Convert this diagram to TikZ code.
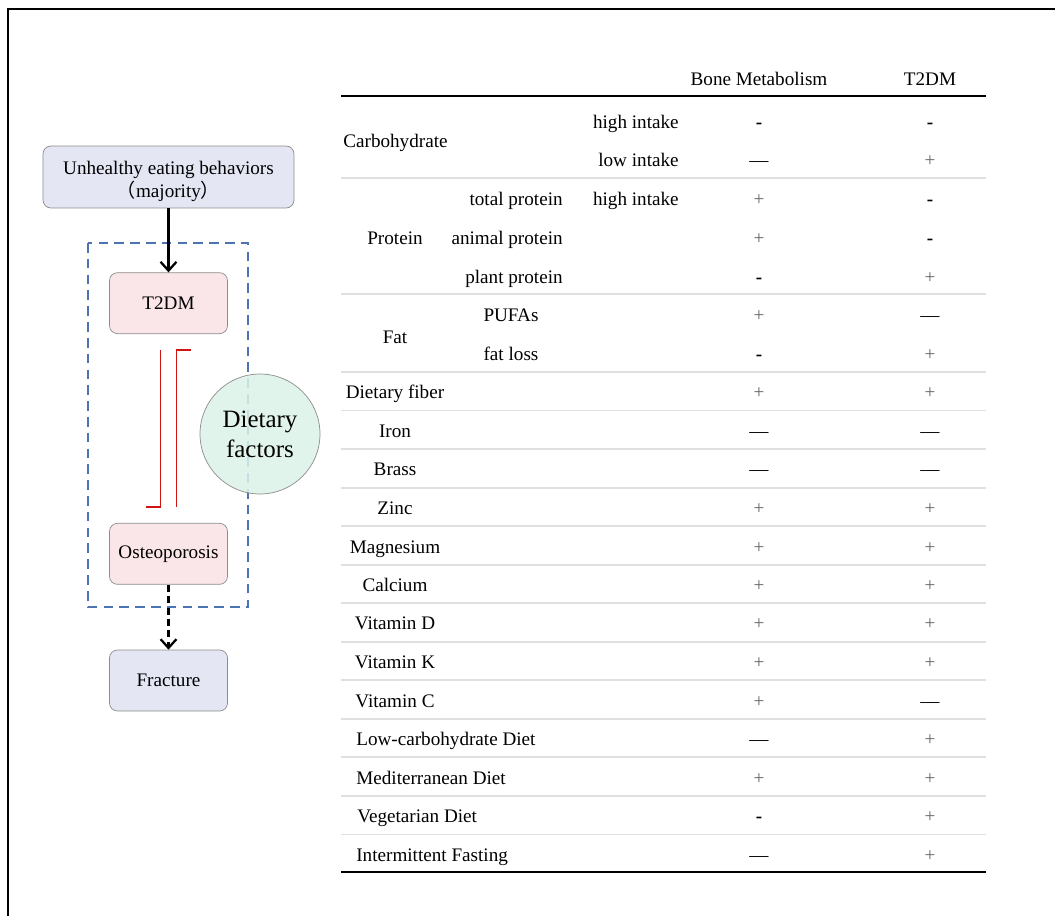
\documentclass[tikz,border=0pt]{standalone}
\usepackage{fontspec}
\setmainfont{Liberation Serif}
\newfontfamily\cjk{Noto Sans CJK SC}
\usepackage{xcolor}
\usetikzlibrary{positioning,arrows.meta}
\definecolor{boxblue}{HTML}{E4E7F3}
\definecolor{boxpink}{HTML}{FAE6E8}
\definecolor{circgreen}{HTML}{DCF2E8}
\definecolor{dashblue}{HTML}{4E73B2}
\definecolor{inhred}{HTML}{D01414}
\newcommand{\mneg}{\textbf{-}}
\newcommand{\mpos}{\textcolor{black!60}{+}}
\newcommand{\mnone}{\textemdash}
\tikzset{
  box/.style={draw=black!45, rounded corners=4.5pt, minimum width=2.36cm,
    minimum height=1.22cm, align=center},
  cell/.style={inner sep=0pt, text height=9.6pt, text depth=1.6pt},
  sep/.style={draw=black!12, line width=0.8pt},
  inhib/.style={draw=inhred, line width=1pt},
  arr/.style={-{Straight Barb[length=5pt,width=9pt]}, line width=1.3pt},
}

\begin{document}
\begin{tikzpicture}[x=0.02cm,y=-0.02cm,font=\fontsize{10.9}{13}\selectfont]
\useasboundingbox (0,0) rectangle (1055,916);
\draw[line width=1.1pt] (8,916) -- (8,9) -- (1055,9);

% left part
\node[box, fill=boxblue, minimum width=5.02cm, minimum height=1.24cm] (unhealthy) at (168.5,177)
  {\rule{0pt}{13pt}Unhealthy eating behaviors\\{\cjk （}majority{\cjk ）}};
\node[box, fill=boxpink, below=1.28cm of unhealthy] (t2dm) {T2DM};
\node[box, fill=boxpink, below=3.78cm of t2dm] (osteo) {Osteoporosis};
\node[box, fill=boxblue, below=1.3cm of osteo] (fracture) {Fracture};
\draw[dashblue, line width=0.9pt, dash pattern=on 5.5pt off 3.5pt] (88,243) rectangle (248,607);
\node[circle, draw=black!45, fill=circgreen, fill opacity=0.85, text opacity=1,
  minimum size=2.4cm, align=center, font=\fontsize{14.2}{17}\selectfont] (factors) at (260,434) {Dietary\\factors};
\draw[arr] (unhealthy.south) -- (t2dm.north);
\draw[arr, dash pattern=on 4pt off 2.5pt] (osteo.south) -- (fracture.north);
\coordinate (la) at (160.5,350);
\coordinate (lb) at (146,507);
\coordinate (ra) at (191,350);
\coordinate (rb) at (176.5,507);
\draw[inhib] (la) |- (lb);
\draw[inhib] (rb) |- (ra);

% table
\node[cell] (hbone) at (759,78) {Bone Metabolism};
\node[cell] (ht2dm) at (930,78) {T2DM};
\draw[line width=0.8pt] (341,96) -- (986,96);
\draw[line width=0.8pt] (341,872) -- (986,872);
\foreach \y in {178,294,372,410.5,449,488,526,565,603,642,680,719,757,796,834.5}
  \draw[sep] (341,\y) -- (986,\y);

\node[cell, anchor=west] (carb) at (343,140) {Carbohydrate};
\node[cell, anchor=east] (hi1) at (679,121) {high intake};
\node[cell, anchor=east] (lo1) at (679,159) {low intake};
\node[cell] (prot) at (395,237) {Protein};
\node[cell, anchor=east] (totp) at (563,198) {total protein};
\node[cell, anchor=east] (anip) at (563,237) {animal protein};
\node[cell, anchor=east] (plap) at (563,276) {plant protein};
\node[cell, anchor=east] (hi2) at (679,198) {high intake};
\node[cell] (fat) at (395,336) {Fat};
\node[cell] (pufa) at (511,314) {PUFAs};
\node[cell] (floss) at (511,353) {fat loss};
\node[cell] (fiber) at (395,391) {Dietary fiber};
\node[cell] (iron) at (395,430) {Iron};
\node[cell] (brass) at (395,468) {Brass};
\node[cell] (zinc) at (395,507) {Zinc};
\node[cell] (mg) at (395,546) {Magnesium};
\node[cell] (ca) at (395,584) {Calcium};
\node[cell] (vitd) at (395,622) {Vitamin D};
\node[cell] (vitk) at (395,661) {Vitamin K};
\node[cell] (vitc) at (395,700) {Vitamin C};
\node[cell, anchor=west] (lowc) at (356,738) {Low-carbohydrate Diet};
\node[cell, anchor=west] (med) at (356,777) {Mediterranean Diet};
\node[cell, anchor=west] (veg) at (357,815) {Vegetarian Diet};
\node[cell, anchor=west] (ifast) at (356,854) {Intermittent Fasting};

\foreach \y/\b/\t [count=\i] in {121/\mneg/\mneg, 159/\mnone/\mpos, 198/\mpos/\mneg,
    237/\mpos/\mneg, 276/\mneg/\mpos, 314/\mpos/\mnone, 353/\mneg/\mpos,
    391/\mpos/\mpos, 430/\mnone/\mnone, 468/\mnone/\mnone, 507/\mpos/\mpos,
    546/\mpos/\mpos, 584/\mpos/\mpos, 622/\mpos/\mpos, 661/\mpos/\mpos,
    700/\mpos/\mnone, 738/\mnone/\mpos, 777/\mpos/\mpos, 815/\mneg/\mpos, 854/\mnone/\mpos}
{
  \node[cell] (bone\i) at (759,\y) {\b};
  \node[cell] (tdm\i) at (930,\y) {\t};
}
\end{tikzpicture}
\end{document}
